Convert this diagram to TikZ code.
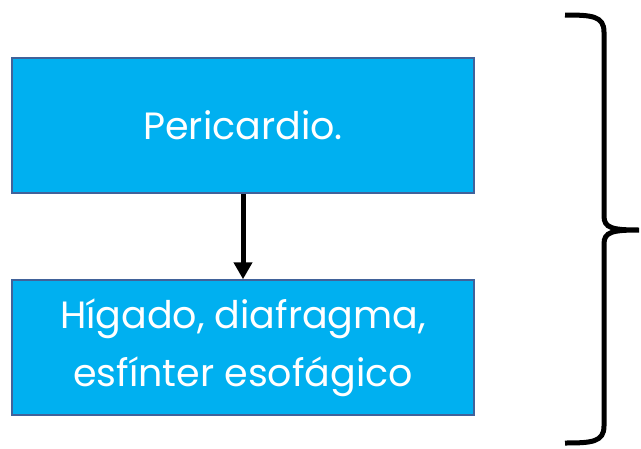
\documentclass[tikz,border=0pt]{standalone}
\usepackage{fontspec}
\setmainfont{Poppins}
\usepackage{tikz}
\usetikzlibrary{arrows.meta, positioning}
\definecolor{boxblue}{HTML}{00B0F0}
\definecolor{boxline}{HTML}{41629A}
\tikzset{>={Stealth[inset=0pt,length=17pt,width=18pt]}}
\tikzset{organ/.style={draw=boxline, fill=boxblue, line width=1.5pt, text=white,
  minimum width=462pt, minimum height=135pt, align=center,
  font=\fontsize{38}{58}\selectfont}}

\begin{document}
\begin{tikzpicture}[x=1pt, y=-1pt]

		\useasboundingbox (0,0) rectangle (641,448);
		\node[organ] (P) at (243,125.5) {Pericardio.};
		\node[organ] (H) at (243,347.5) {Hígado, diafragma,\\esfínter esofágico};
		\draw [->, line width=5pt] (P)--(H);
		% llave
		\draw [line width=5pt] (565,15) .. controls (592,15) and (604,16) .. (604,32)
			-- (604,216) .. controls (604,228) and (612,230) .. (639,230)
			.. controls (612,230) and (604,232) .. (604,244)
			-- (604,426) .. controls (604,442) and (592,443) .. (565,443);

		\end{tikzpicture}
\end{document}
